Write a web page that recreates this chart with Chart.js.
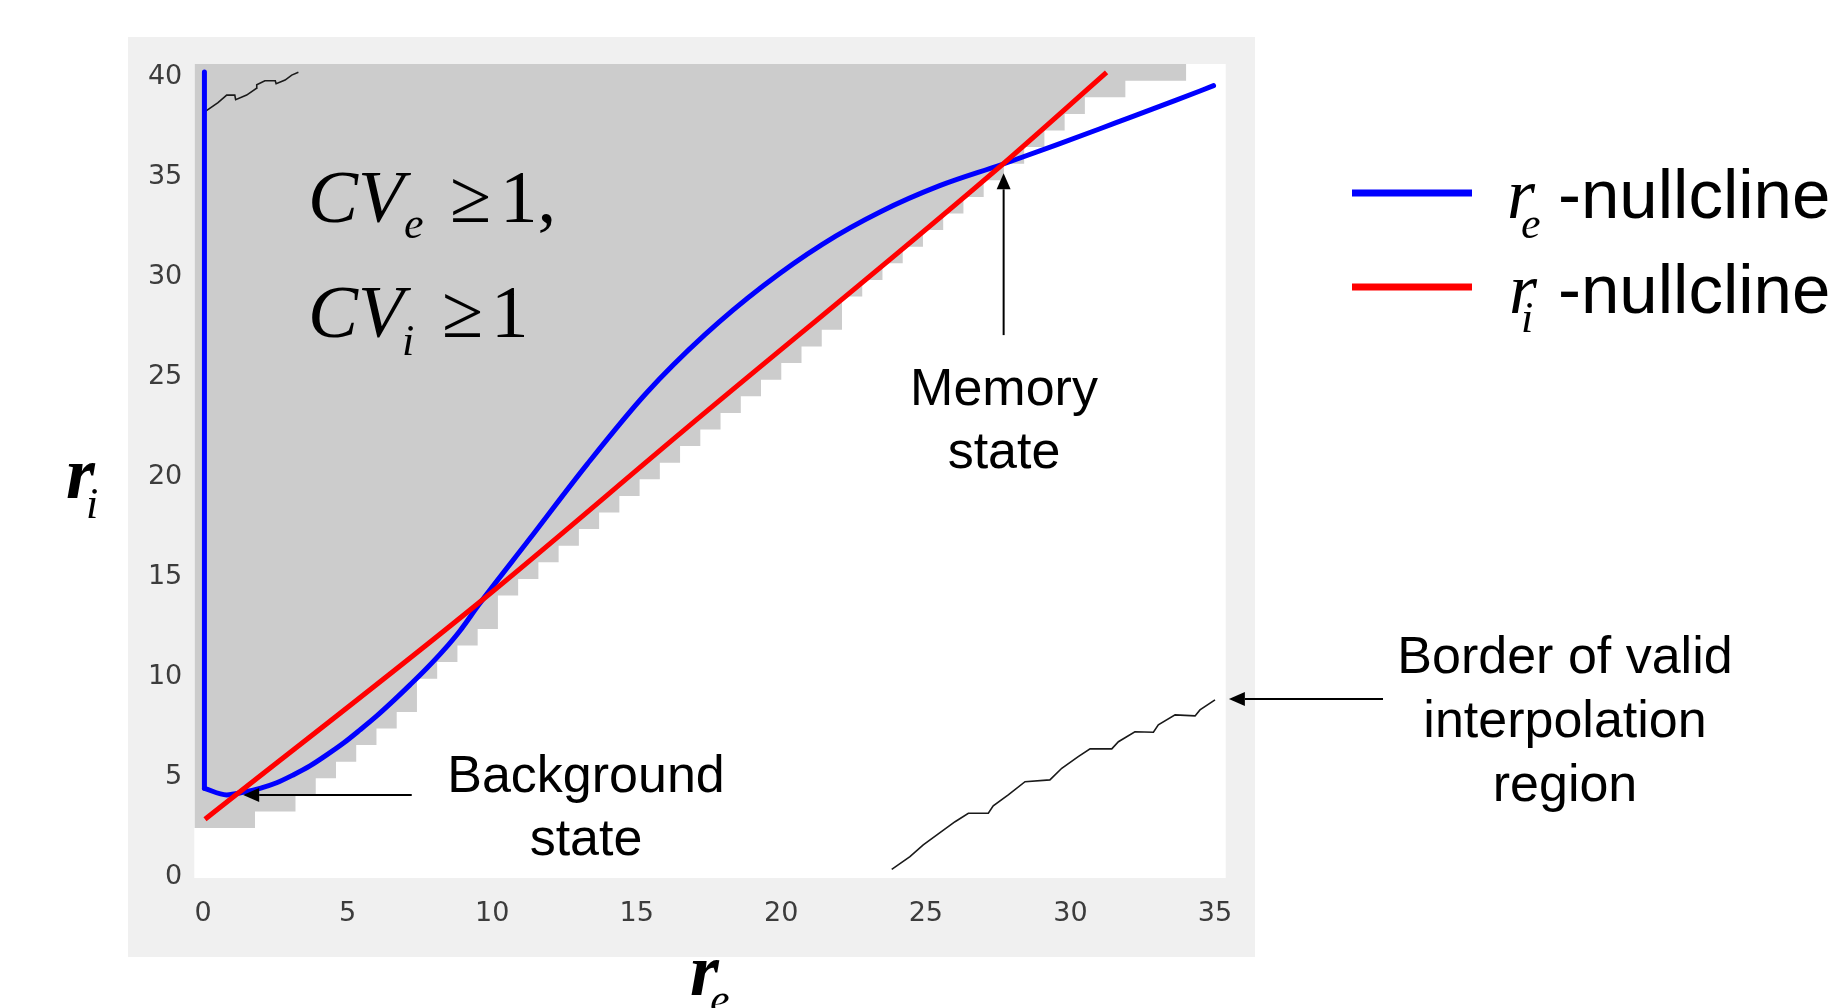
<!DOCTYPE html>
<html><head><meta charset="utf-8">
<script src="https://cdn.jsdelivr.net/npm/chart.js@4.4.1/dist/chart.umd.min.js"></script>
<style>html,body{margin:0;padding:0;background:#fff;overflow:hidden}#wrap{position:absolute;left:0;top:0;width:1842px;height:1008px}canvas{display:block}</style>
</head><body><div id="wrap"><canvas id="c" width="1842" height="1008" style="width:1842px;height:1008px"></canvas></div>
<script>
// ---- axis ticks & ranges ----
const xTicks = [0, 5, 10, 15, 20, 25, 30, 35];
const yTicks = [0, 5, 10, 15, 20, 25, 30, 35, 40];
const xRange = [-0.30, 35.37];
const yRange = [-0.065, 40.635];

// ---- grey "valid interpolation" region: lower staircase border (left edge of each step, and its bottom) ----
const validRe = [-0.3, 1.8, 3.2, 3.9, 4.6, 5.3, 6.0, 6.7, 7.4, 8.1, 8.8, 9.5, 10.2, 10.9, 11.6, 12.3, 13.0, 13.7, 14.4, 15.1, 15.8, 16.5, 17.2, 17.9, 18.6, 19.3, 20.0, 20.7, 21.4, 22.1, 22.8, 23.5, 24.2, 24.9, 25.6, 26.3, 27.0, 27.7, 28.4, 29.1, 29.8, 30.5, 31.9, 34.0, 35.4];
const validRi = [2.43, 3.26, 4.09, 4.92, 5.75, 6.58, 7.41, 8.24, 9.90, 10.73, 11.56, 12.39, 14.06, 14.89, 15.72, 16.55, 17.38, 18.21, 19.04, 19.87, 20.70, 21.53, 22.36, 23.19, 24.02, 24.85, 25.68, 26.51, 27.35, 29.01, 29.84, 30.67, 31.50, 32.33, 33.16, 33.99, 34.82, 35.65, 36.48, 37.31, 38.14, 38.97, 39.80, 40.64, 40.64];

// ---- r_e-nullcline (blue): vertical branch (first two points) then the curve ----
const reNullRe = [0.05, 0.05, 0.82, 1.39, 1.97, 2.55, 3.12, 3.70, 4.28, 4.85, 5.43, 6.01, 6.58, 7.16, 7.74, 8.31, 8.89, 9.55, 11.26, 13.29, 15.32, 17.36, 19.39, 21.42, 23.45, 25.48, 27.63, 29.54, 31.58, 33.61, 34.95];
const reNullRi = [40.24, 4.42, 4.09, 4.22, 4.42, 4.70, 5.09, 5.54, 6.09, 6.67, 7.34, 8.04, 8.79, 9.59, 10.42, 11.30, 12.30, 13.62, 16.82, 20.63, 24.16, 27.10, 29.56, 31.62, 33.26, 34.55, 35.61, 36.60, 37.70, 38.80, 39.55];

// ---- r_i-nullcline (red) ----
const riNullRe = [0.07, 9.52, 16.64, 27.22, 31.25];
const riNullRi = [2.87, 13.67, 22.33, 35.08, 40.22];

// ---- border of valid interpolation region (black jagged lines) ----
const borderARe = [0.07, 0.52, 0.82, 1.10, 1.13, 1.51, 1.85, 1.86, 2.14, 2.50, 2.53, 2.84, 3.07, 3.30];
const borderARi = [38.25, 38.70, 39.08, 39.08, 38.85, 39.08, 39.42, 39.60, 39.80, 39.80, 39.65, 39.83, 40.08, 40.22];
const borderBRe = [23.82, 24.45, 24.91, 25.43, 26.01, 26.47, 27.16, 27.33, 27.85, 28.43, 29.29, 29.70, 30.27, 30.68, 31.43, 31.66, 32.23, 32.87, 33.04, 33.62, 34.31, 34.48, 35.0];
const borderBRi = [0.37, 1.00, 1.59, 2.14, 2.75, 3.17, 3.17, 3.54, 4.09, 4.75, 4.84, 5.42, 6.00, 6.39, 6.39, 6.75, 7.25, 7.22, 7.59, 8.09, 8.04, 8.34, 8.84];

const pts = (xs, ys) => xs.map((x, i) => ({x: x, y: ys[i]}));
function stairs(xs, ys) {
  const out = [];
  for (let i = 0; i < xs.length - 1; i++) {
    out.push({x: xs[i], y: ys[i]});
    out.push({x: xs[i + 1], y: ys[i]});
  }
  out.push({x: xs[xs.length - 1], y: ys[ys.length - 1]});
  return out;
}
const reAll = pts(reNullRe, reNullRi);

function arrow(ctx, x1, y1, x2, y2, head, half) {
  const ang = Math.atan2(y2 - y1, x2 - x1);
  const bx = x2 - head * Math.cos(ang), by = y2 - head * Math.sin(ang);
  ctx.beginPath(); ctx.moveTo(x1, y1); ctx.lineTo(bx, by); ctx.stroke();
  ctx.beginPath();
  ctx.moveTo(x2, y2);
  ctx.lineTo(bx + half * Math.sin(ang), by - half * Math.cos(ang));
  ctx.lineTo(bx - half * Math.sin(ang), by + half * Math.cos(ang));
  ctx.closePath(); ctx.fill();
}
function txt(ctx, s, x, y, font, align) {
  ctx.font = font; ctx.textAlign = align || 'left'; ctx.textBaseline = 'alphabetic';
  ctx.fillText(s, x, y);
}
const SERIF = '"Liberation Serif", "Times New Roman", serif';
const SANS = '"Liberation Sans", Arial, sans-serif';

const deco = {
  id: 'deco',
  beforeDraw(chart) {
    const {ctx, chartArea: a} = chart;
    ctx.save();
    ctx.fillStyle = '#ffffff'; ctx.fillRect(0, 0, chart.width, chart.height);
    ctx.fillStyle = '#f0f0f0'; ctx.fillRect(128, 37, 1255 - 128, 957 - 37);
    ctx.fillStyle = '#ffffff'; ctx.fillRect(a.left, a.top, a.right - a.left, a.bottom - a.top);
    ctx.restore();
  },
  afterDraw(chart) {
    const ctx = chart.ctx, sx = chart.scales.x, sy = chart.scales.y;
    const X = v => sx.getPixelForValue(v), Y = v => sy.getPixelForValue(v);
    ctx.save();
    ctx.fillStyle = '#000'; ctx.strokeStyle = '#000'; ctx.lineWidth = 2;
    arrow(ctx, X(7.22), Y(4.085), X(1.39), Y(4.085), 16, 7);
    arrow(ctx, X(27.69), Y(27.08), X(27.69), Y(35.17), 16, 7);
    arrow(ctx, X(40.81), Y(8.885), X(35.48), Y(8.885), 16, 7);
    txt(ctx, 'Background', 586, 792, '52px ' + SANS, 'center');
    txt(ctx, 'state', 586, 855, '52px ' + SANS, 'center');
    txt(ctx, 'Memory', 1004, 405, '52px ' + SANS, 'center');
    txt(ctx, 'state', 1004, 468, '52px ' + SANS, 'center');
    txt(ctx, 'Border of valid', 1565, 673, '52px ' + SANS, 'center');
    txt(ctx, 'interpolation', 1565, 737, '52px ' + SANS, 'center');
    txt(ctx, 'region', 1565, 801, '52px ' + SANS, 'center');
    txt(ctx, 'CV', 308, 222, 'italic 75px ' + SERIF);
    txt(ctx, 'e', 404, 238, 'italic 44px ' + SERIF);
    txt(ctx, '\u2265', 450, 222, '75px ' + SERIF);
    txt(ctx, '1,', 500, 222, '75px ' + SERIF);
    txt(ctx, 'CV', 308, 337, 'italic 75px ' + SERIF);
    txt(ctx, 'i', 402, 355, 'italic 44px ' + SERIF);
    txt(ctx, '\u2265', 442, 337, '75px ' + SERIF);
    txt(ctx, '1', 491, 337, '75px ' + SERIF);
    txt(ctx, 'r', 66, 498, 'bold italic 74px ' + SERIF);
    txt(ctx, 'i', 86, 518, 'italic 44px ' + SERIF);
    txt(ctx, 'r', 690, 995, 'bold italic 74px ' + SERIF);
    txt(ctx, 'e', 710, 1014, 'italic 44px ' + SERIF);
    ctx.lineWidth = 7;
    ctx.strokeStyle = '#0000ff';
    ctx.beginPath(); ctx.moveTo(1352, 193); ctx.lineTo(1472, 193); ctx.stroke();
    ctx.strokeStyle = '#ff0000';
    ctx.beginPath(); ctx.moveTo(1352, 287); ctx.lineTo(1472, 287); ctx.stroke();
    txt(ctx, 'r', 1507, 218, 'italic 72px ' + SERIF);
    txt(ctx, 'e', 1521, 238, 'italic 44px ' + SERIF);
    txt(ctx, '-nullcline', 1558, 218, '69px ' + SANS);
    txt(ctx, 'r', 1509, 313, 'italic 72px ' + SERIF);
    txt(ctx, 'i', 1521, 332, 'italic 44px ' + SERIF);
    txt(ctx, '-nullcline', 1558, 313, '69px ' + SANS);
    ctx.restore();
  }
};

const lineBase = {showLine: true, pointRadius: 0, pointHoverRadius: 0, tension: 0, fill: false};

new Chart(document.getElementById('c'), {
  type: 'scatter',
  data: {
    datasets: [
      Object.assign({}, lineBase, {label: 'valid region', data: stairs(validRe, validRi),
        borderWidth: 0, borderColor: 'rgba(0,0,0,0)', backgroundColor: '#cccccc', fill: 'end', order: 10}),
      Object.assign({}, lineBase, {label: 'border A', data: pts(borderARe, borderARi), borderColor: '#1a1a1a', borderWidth: 1.6, order: 5}),
      Object.assign({}, lineBase, {label: 'border B', data: pts(borderBRe, borderBRi), borderColor: '#1a1a1a', borderWidth: 1.6, order: 5}),
      Object.assign({}, lineBase, {label: 're-nullcline (vertical branch)', data: reAll.slice(0, 2), borderColor: '#0000ff', borderWidth: 5, borderCapStyle: 'round', order: 3}),
      Object.assign({}, lineBase, {label: 're-nullcline', data: reAll.slice(1), borderColor: '#0000ff', borderWidth: 5, borderCapStyle: 'round', cubicInterpolationMode: 'monotone', order: 2}),
      Object.assign({}, lineBase, {label: 'ri-nullcline', data: pts(riNullRe, riNullRi), borderColor: '#ff0000', borderWidth: 5, cubicInterpolationMode: 'monotone', order: 1})
    ]
  },
  options: {
    responsive: false, animation: false, devicePixelRatio: 1,
    layout: {padding: {left: 127, top: 64, right: 616.3, bottom: 70}},
    plugins: {legend: {display: false}, tooltip: {enabled: false}},
    scales: {
      x: {type: 'linear', min: xRange[0], max: xRange[1],
        grid: {display: false, drawTicks: false}, border: {display: false},
        ticks: {font: {family: 'DejaVu Sans', size: 27}, color: '#3c3c3c', padding: 20, maxRotation: 0},
        afterBuildTicks: s => { s.ticks = xTicks.map(v => ({value: v})); },
        afterFit: s => { s.height = 60; }},
      y: {type: 'linear', min: yRange[0], max: yRange[1],
        grid: {display: false, drawTicks: false}, border: {display: false},
        ticks: {font: {family: 'DejaVu Sans', size: 27}, color: '#3c3c3c', padding: 12},
        afterBuildTicks: s => { s.ticks = yTicks.map(v => ({value: v})); },
        afterFit: s => { s.width = 67.3; }}
    }
  },
  plugins: [deco]
});
</script></body></html>
